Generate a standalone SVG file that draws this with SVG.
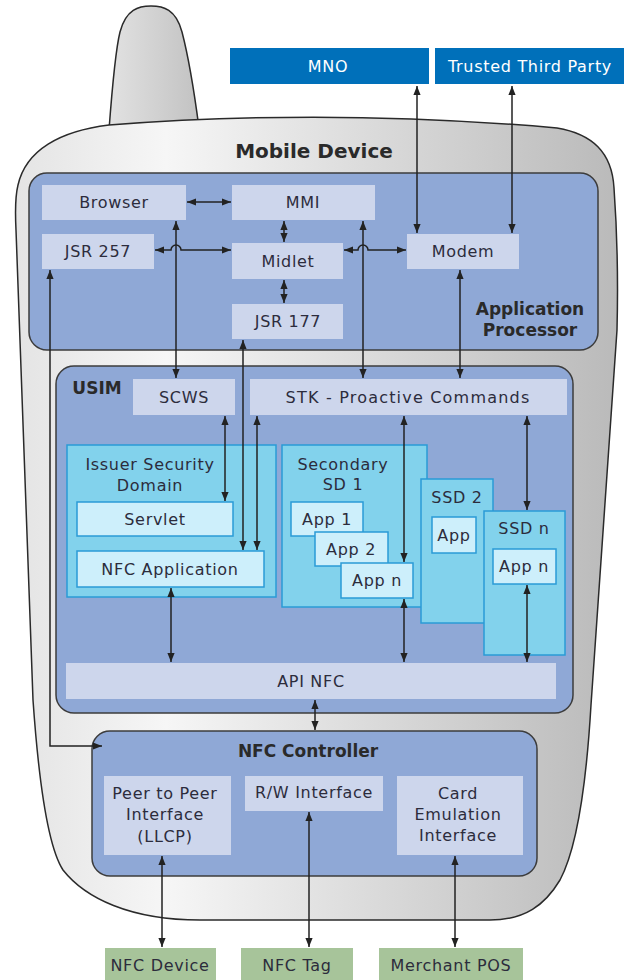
<svg xmlns="http://www.w3.org/2000/svg" width="624" height="980" viewBox="0 0 624 980">
<defs>
<linearGradient id="bodyGrad" x1="0" y1="0" x2="1" y2="0">
<stop offset="0" stop-color="#e4e4e4"/>
<stop offset="0.25" stop-color="#f6f6f6"/>
<stop offset="1" stop-color="#bababa"/>
</linearGradient>
<linearGradient id="antGrad" x1="0" y1="0" x2="1" y2="0">
<stop offset="0" stop-color="#e2e2e2"/>
<stop offset="1" stop-color="#c2c2c2"/>
</linearGradient>
<marker id="arr" viewBox="0 0 10 8" markerWidth="9" markerHeight="8" refX="10" refY="4" orient="auto-start-reverse" markerUnits="userSpaceOnUse">
<path d="M0,0 L10,4 L0,8 z" fill="#222"/>
</marker>
<style>
.t{font-family:"DejaVu Sans",Verdana,sans-serif;font-size:16px;fill:#2c2c3c;text-anchor:middle;letter-spacing:0.7px}
.b{font-family:"DejaVu Sans",Verdana,sans-serif;font-weight:bold;fill:#2a2a2a;text-anchor:middle}
.w{fill:#ffffff}
.panel{fill:#8fa8d6;stroke:#3c3c3c;stroke-width:1.5}
.lt{fill:#cdd6ec}
.sd{fill:#82d2ec;stroke:#2a9bd6;stroke-width:1.5}
.app{fill:#cdeffb;stroke:#2a9bd6;stroke-width:1.5}
.ext{fill:#0070ba}
.grn{fill:#a7c49a}
.c{fill:none;stroke:#222;stroke-width:1.5;marker-start:url(#arr);marker-end:url(#arr)}
</style>
</defs>

<g id="phone">
<path d="M109,130 C112,90 115,52 120,32 C126,9 139,6 151,6 C163,6 176,9 182,32 C188,55 194,90 199,128 Z" fill="url(#antGrad)" stroke="#2a2a2a" stroke-width="1.5"/>
<path d="M18,185 C26,150 60,131 109,125 Q330,108 557,128 C592,134 612,152 614,188 C617,230 618,290 617,330 L591,705 C586,790 576,850 560,880 C545,905 525,920 490,920 L200,920 C130,920 85,898 63,870 C50,850 40,800 33,700 L16,230 C15,210 15,197 18,185 Z" fill="url(#bodyGrad)" stroke="#2a2a2a" stroke-width="1.5"/>
<text class="b" x="314" y="158" font-size="20">Mobile Device</text>
</g>

<g id="mno"><rect class="ext" x="230" y="48" width="199" height="36"/><text class="t w" x="328" y="72">MNO</text></g>
<g id="ttp"><rect class="ext" x="435" y="48" width="189" height="36"/><text class="t w" x="530" y="72">Trusted Third Party</text></g>

<g id="app-processor">
<rect class="panel" x="29" y="173" width="569" height="177" rx="18"/>
<text class="b" x="530" y="315" font-size="17">Application</text>
<text class="b" x="530" y="336" font-size="17">Processor</text>
</g>
<g id="browser"><rect class="lt" x="42" y="185" width="144" height="35"/><text class="t" x="114" y="208">Browser</text></g>
<g id="mmi"><rect class="lt" x="232" y="185" width="143" height="35"/><text class="t" x="303" y="208">MMI</text></g>
<g id="jsr257"><rect class="lt" x="42" y="234" width="112" height="35"/><text class="t" x="98" y="257">JSR 257</text></g>
<g id="midlet"><rect class="lt" x="232" y="243" width="111" height="36"/><text class="t" x="288" y="267">Midlet</text></g>
<g id="jsr177"><rect class="lt" x="232" y="304" width="111" height="35"/><text class="t" x="288" y="327">JSR 177</text></g>
<g id="modem"><rect class="lt" x="407" y="234" width="112" height="35"/><text class="t" x="463" y="257">Modem</text></g>

<g id="usim">
<rect class="panel" x="56" y="366" width="517" height="347" rx="18"/>
<text class="b" x="97" y="394" font-size="17">USIM</text>
</g>
<g id="scws"><rect class="lt" x="133" y="379" width="102" height="36"/><text class="t" x="184" y="403">SCWS</text></g>
<g id="stk"><rect class="lt" x="250" y="379" width="317" height="36"/><text class="t" x="408" y="403" style="letter-spacing:1.2px">STK - Proactive Commands</text></g>

<g id="isd">
<rect class="sd" x="67" y="445" width="209" height="152"/>
<text class="t" x="150" y="470">Issuer Security</text>
<text class="t" x="150" y="491">Domain</text>
</g>
<g id="servlet"><rect class="app" x="77" y="502" width="156" height="34"/><text class="t" x="155" y="525">Servlet</text></g>
<g id="nfc-app"><rect class="app" x="77" y="551" width="187" height="36"/><text class="t" x="170" y="575">NFC Application</text></g>

<g id="ssd1">
<rect class="sd" x="282" y="445" width="145" height="162"/>
<text class="t" x="343" y="470">Secondary</text>
<text class="t" x="343" y="490">SD 1</text>
</g>
<g id="app1"><rect class="app" x="291" y="502" width="72" height="34"/><text class="t" x="327" y="525">App 1</text></g>
<g id="app2"><rect class="app" x="315" y="532" width="73" height="34"/><text class="t" x="351" y="555">App 2</text></g>
<g id="appn1"><rect class="app" x="341" y="563" width="72" height="35"/><text class="t" x="377" y="586">App n</text></g>

<g id="ssd2">
<rect class="sd" x="421" y="479" width="72" height="144"/>
<text class="t" x="457" y="503">SSD 2</text>
</g>
<g id="app-ssd2"><rect class="app" x="432" y="517" width="44" height="36"/><text class="t" x="454" y="541">App</text></g>

<g id="ssdn">
<rect class="sd" x="484" y="511" width="81" height="144"/>
<text class="t" x="524" y="534">SSD n</text>
</g>
<g id="app-ssdn"><rect class="app" x="493" y="549" width="63" height="35"/><text class="t" x="524" y="572">App n</text></g>

<g id="api-nfc"><rect class="lt" x="66" y="663" width="490" height="36"/><text class="t" x="311" y="687">API NFC</text></g>

<g id="nfc-controller">
<rect class="panel" x="92" y="731" width="445" height="145" rx="18"/>
<text class="b" x="308" y="757" font-size="17">NFC Controller</text>
</g>
<g id="p2p"><rect class="lt" x="104" y="776" width="127" height="79"/>
<text class="t" x="165" y="799">Peer to Peer</text><text class="t" x="165" y="820">Interface</text><text class="t" x="165" y="842">(LLCP)</text></g>
<g id="rw"><rect class="lt" x="245" y="776" width="138" height="35"/><text class="t" x="314" y="798">R/W Interface</text></g>
<g id="card"><rect class="lt" x="397" y="776" width="126" height="79"/>
<text class="t" x="458" y="799">Card</text><text class="t" x="458" y="820">Emulation</text><text class="t" x="458" y="841">Interface</text></g>

<g id="nfc-device"><rect class="grn" x="105" y="948" width="111" height="32"/><text class="t" x="160" y="971">NFC Device</text></g>
<g id="nfc-tag"><rect class="grn" x="241" y="948" width="112" height="32"/><text class="t" x="297" y="971">NFC Tag</text></g>
<g id="merchant-pos"><rect class="grn" x="379" y="948" width="144" height="32"/><text class="t" x="451" y="971">Merchant POS</text></g>

<g id="connectors">
<path class="c" d="M417,86 V233"/>
<path class="c" d="M512,86 V233"/>
<path class="c" d="M187,202 H231"/>
<path class="c" d="M284,221 V242"/>
<path class="c" d="M284,280 V303"/>
<path class="c" d="M155,250 H171 A5,5 0 0 1 181,250 H231"/>
<path class="c" d="M344,250 H358 A5,5 0 0 1 368,250 H406"/>
<path class="c" d="M176,221 V378"/>
<path class="c" d="M363,221 V378"/>
<path class="c" d="M460,270 V378"/>
<path class="c" d="M243,340 V550"/>
<path class="c" d="M225,416 V501"/>
<path class="c" d="M257,416 V550"/>
<path class="c" d="M404,416 V562"/>
<path class="c" d="M527,416 V510"/>
<path class="c" d="M171,588 V662"/>
<path class="c" d="M404,599 V662"/>
<path class="c" d="M527,585 V662"/>
<path class="c" d="M315,700 V730"/>
<path class="c" d="M50,270 V746 H102"/>
<path class="c" d="M162,856 V947"/>
<path class="c" d="M309,812 V947"/>
<path class="c" d="M455,856 V947"/>
</g>
</svg>
